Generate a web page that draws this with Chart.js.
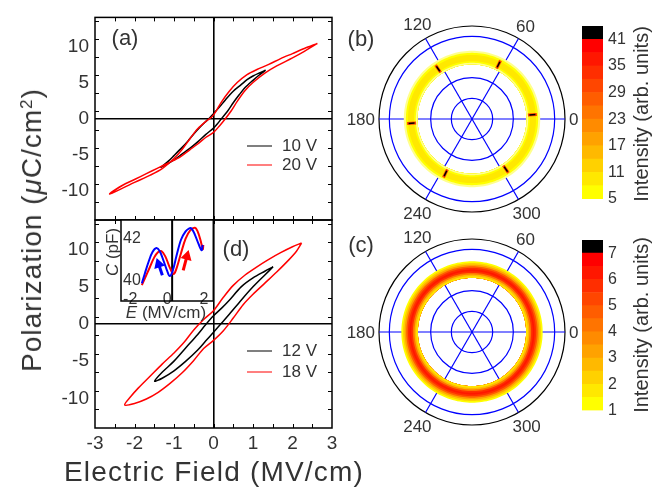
<!DOCTYPE html>
<html>
<head>
<meta charset="utf-8">
<title>P-E loops and polar intensity maps</title>
<script src="https://cdn.jsdelivr.net/npm/chart.js@4.4.1/dist/chart.umd.min.js"></script>
<style>
  body { margin: 0; background: #fff; }
  #fig { position: relative; width: 664px; height: 490px; overflow: hidden;
         font-family: "Liberation Sans", Arial, sans-serif; color: #333; }
  #fig canvas { position: absolute; left: 0; top: 0; }
  .lbl { position: absolute; white-space: nowrap; line-height: 1; transform: translate(-50%, -50%); }
  .rot { transform: translate(-50%, -50%) rotate(-90deg); }
  .leg { position: absolute; white-space: nowrap; line-height: 1; font-size: 17px; transform: translateY(-50%); }
  .leg span { display: inline-block; width: 25px; height: 0; border-top: 1.6px solid; vertical-align: middle; margin-right: 10px; }
  .sup { font-size: 0.6em; position: relative; top: -0.55em; }
</style>
</head>
<body>
<div id="fig">
  <canvas id="cA" width="664" height="490"></canvas>
  <canvas id="cD" width="664" height="490"></canvas>
  <canvas id="cIn" width="664" height="490"></canvas>
  <canvas id="cB" width="664" height="490"></canvas>
  <canvas id="cC" width="664" height="490"></canvas>
  <canvas id="cbB" width="664" height="490"></canvas>
  <canvas id="cbC" width="664" height="490"></canvas>

  <div class="lbl" style="left:125px;top:38px;font-size:22px">(a)</div>
  <div class="lbl" style="left:236px;top:249px;font-size:22px">(d)</div>
  <div class="lbl" style="left:361px;top:39px;font-size:22px">(b)</div>
  <div class="lbl" style="left:361px;top:245px;font-size:22px">(c)</div>

  <div class="leg" style="left:247px;top:145px"><span style="color:#000"></span>10 V</div>
  <div class="leg" style="left:247px;top:164px"><span style="color:#ff0000"></span>20 V</div>
  <div class="leg" style="left:247px;top:350px"><span style="color:#000"></span>12 V</div>
  <div class="leg" style="left:247px;top:371px"><span style="color:#ff0000"></span>18 V</div>

  <div class="lbl rot" style="left:32px;top:230px;font-size:28px;letter-spacing:1px">Polarization (<i>μ</i>C/cm<span class="sup">2</span>)</div>
  <div class="lbl" style="left:214px;top:472px;font-size:28px;letter-spacing:1.2px">Electric Field (MV/cm)</div>

  <div class="lbl rot" style="left:112px;top:252px;font-size:17px"><i>C</i> (pF)</div>
  <div class="lbl" style="left:166px;top:312px;font-size:17px"><i>E</i> (MV/cm)</div>

  <div class="lbl rot" style="left:641px;top:114px;font-size:20px">Intensity (arb. units)</div>
  <div class="lbl rot" style="left:641px;top:325px;font-size:20px">Intensity (arb. units)</div>
</div>

<script>
// ---------- data ----------
const eTicks = [-3, -2, -1, 0, 1, 2, 3];
const pTicks = [-10, -5, 0, 5, 10];

// (a) 10 V loop: from +tip along the upper branch, back along the lower branch
const loopA10E = [1.32, 1.15, 1.0, 0.85, 0.7, 0.5, 0.3, 0.15, 0.0, -0.1, -0.2, -0.35, -0.5, -0.65, -0.8, -1.0, -1.15, -1.33,
                  -1.15, -1.0, -0.8, -0.6, -0.4, -0.2, 0.0, 0.1, 0.2, 0.35, 0.5, 0.65, 0.8, 1.0, 1.15, 1.32];
const loopA10P = [6.7, 6.3, 5.9, 5.4, 4.7, 3.8, 2.6, 1.6, 0.7, 0.1, -0.4, -1.2, -2.1, -3.1, -4.0, -5.1, -5.9, -6.7,
                  -6.2, -5.7, -4.9, -4.1, -3.2, -2.2, -1.3, -0.7, 0.0, 1.0, 2.2, 3.3, 4.3, 5.3, 6.0, 6.7];
// (a) 20 V loop
const loopA20E = [2.63, 2.3, 2.0, 1.7, 1.4, 1.1, 0.85, 0.6, 0.4, 0.2, 0.05, -0.05, -0.2, -0.4, -0.6, -0.8, -1.0, -1.3, -1.6, -2.0, -2.3, -2.63,
                  -2.3, -2.0, -1.7, -1.4, -1.1, -0.85, -0.6, -0.4, -0.2, 0.0, 0.15, 0.3, 0.45, 0.6, 0.8, 1.0, 1.3, 1.6, 2.0, 2.3, 2.63];
const loopA20P = [10.4, 9.7, 9.0, 8.3, 7.5, 6.8, 6.1, 5.0, 3.8, 2.3, 0.9, 0.2, -0.4, -1.4, -2.8, -4.3, -5.5, -6.9, -7.8, -8.8, -9.6, -10.4,
                  -9.2, -8.4, -7.6, -6.8, -6.0, -5.3, -4.3, -3.5, -2.6, -1.9, -1.0, 0.0, 1.1, 2.4, 3.9, 5.0, 6.3, 7.3, 8.4, 9.3, 10.4];
// (d) 12 V loop
const loopD12E = [1.51, 1.3, 1.0, 0.7, 0.4, 0.2, 0.0, -0.2, -0.4, -0.7, -1.0, -1.3, -1.49,
                  -1.3, -1.0, -0.7, -0.4, -0.2, 0.0, 0.2, 0.4, 0.7, 1.0, 1.3, 1.51];
const loopD12P = [7.7, 7.1, 6.2, 5.0, 3.2, 2.1, 1.1, -0.1, -1.4, -3.2, -5.0, -6.5, -7.7,
                  -7.3, -6.3, -5.0, -3.5, -2.3, -1.1, 0.1, 1.3, 3.2, 5.0, 6.6, 7.7];
// (d) 18 V loop
const loopD18E = [2.23, 2.0, 1.7, 1.4, 1.1, 0.8, 0.5, 0.25, 0.0, -0.25, -0.5, -0.75, -1.0, -1.3, -1.6, -1.9, -2.1, -2.25,
                  -2.0, -1.7, -1.4, -1.1, -0.8, -0.5, -0.25, 0.0, 0.25, 0.5, 0.75, 1.0, 1.3, 1.6, 1.9, 2.1, 2.23];
const loopD18P = [10.9, 10.4, 9.6, 8.7, 7.7, 6.6, 5.2, 3.6, 1.8, 0.6, -0.8, -2.5, -3.9, -5.4, -7.0, -8.6, -9.8, -10.9,
                  -10.7, -10.1, -9.2, -8.0, -6.6, -4.9, -3.3, -2.2, -0.9, 0.8, 2.6, 4.0, 5.5, 7.0, 8.6, 9.8, 10.9];

// inset: C(E)
const insetETicks = [-2, 0, 2];
const insetCTicks = [40, 42];
const insetBlueE = [-1.37, -1.2, -1.0, -0.8, -0.58, -0.4, -0.2, 0.0, 0.14, 0.3, 0.5, 0.75, 1.0, 1.2, 1.33, 1.5, 1.7, 1.87, 1.92];
const insetBlueC = [39.85, 40.35, 40.9, 41.35, 41.55, 41.4, 40.95, 40.45, 40.2, 40.45, 41.15, 41.95, 42.35, 42.5, 42.48, 42.2, 41.75, 41.44, 41.7];
const insetRedE = [-1.37, -1.2, -0.95, -0.7, -0.5, -0.31, -0.1, 0.1, 0.25, 0.36, 0.5, 0.75, 1.0, 1.25, 1.51, 1.65, 1.8, 1.93, 1.96];
const insetRedC = [39.76, 40.1, 40.6, 41.1, 41.35, 41.4, 41.15, 40.7, 40.4, 40.3, 40.55, 41.3, 42.0, 42.4, 42.53, 42.35, 41.95, 41.5, 41.7];
const insetMarkE = 0.27;                 // vertical black marker line in the inset
const arrowBlueE = [-0.26, -0.46], arrowBlueC = [40.24, 40.77];
const arrowRedE = [0.87, 1.07], arrowRedC = [40.48, 41.15];

// polar maps (b) and (c)
const spokeAngles = [0, 60, 120, 180, 240, 300];
const polarGridR = [0, 1, 2, 3, 4, 4.5];
const ringBEdges = [2.64, 2.72, 2.80, 2.90, 3.00, 3.10, 3.20, 3.30];
const ringBVals = [4.5, 6.5, 8.5, 9.0, 8.5, 6.5, 4.5];
const spotBAngles = [4, 64, 124, 184, 244, 304];
const spotBR = 2.93;
const spotBPeak = 43, spotBHalo = 30;
const ringCEdges = [2.62, 2.70, 2.78, 2.86, 2.94, 3.02, 3.10, 3.18, 3.26, 3.34, 3.42];
const ringCVals = [1.5, 2.8, 4.2, 5.6, 6.3, 5.8, 4.6, 3.2, 2.0, 1.2];

// colour bars
const cbBLevels = [5, 8, 11, 14, 17, 20, 23, 26, 29, 32, 35, 38, 41, 44];
const cbBTicks = [5, 11, 17, 23, 29, 35, 41];
const cbCLevels = [1, 1.5, 2, 2.5, 3, 3.5, 4, 4.5, 5, 5.5, 6, 6.5, 7, 7.5];
const cbCTicks = [1, 2, 3, 4, 5, 6, 7];

// ---------- styling helpers ----------
const palette = ['#ffff00', '#ffe800', '#ffd100', '#ffb900', '#ffa200', '#ff8b00', '#ff7400',
                 '#ff5d00', '#ff4600', '#ff2e00', '#ff1700', '#ff0000', '#000000'];
const belowColor = '#ffff8c';

Chart.defaults.font.family = '"Liberation Sans", Arial, sans-serif';
Chart.defaults.color = '#333';
Chart.defaults.animation = false;
Chart.defaults.responsive = false;
Chart.defaults.plugins.legend.display = false;
Chart.defaults.plugins.tooltip.enabled = false;

const xy = (xs, ys) => xs.map((x, i) => ({ x, y: ys[i] }));
const fixTicks = vals => s => { s.ticks = vals.map(v => ({ value: v })); };
const zeroLine = c => (c.tick && c.tick.value === 0) ? '#000' : 'rgba(0,0,0,0)';

function levelColor(v, levels) {
  if (v < levels[0]) return belowColor;
  for (let i = 0; i < levels.length - 1; i++) {
    if (v < levels[i + 1]) return palette[i];
  }
  return palette[palette.length - 1];
}

// frame with inward ticks on all four sides
const framePlugin = {
  id: 'frame',
  afterDraw(chart, args, o) {
    const { ctx, chartArea: a, scales: { x, y } } = chart;
    ctx.save();
    ctx.strokeStyle = '#000';
    ctx.lineWidth = o.width || 1.5;
    ctx.strokeRect(a.left, a.top, a.right - a.left, a.bottom - a.top);
    if (o.len) {
      ctx.lineWidth = 1;
      ctx.beginPath();
      for (let v = x.min + o.xStep; v < x.max - 1e-6; v += o.xStep) {
        const px = Math.round(x.getPixelForValue(v)) + 0.5;
        ctx.moveTo(px, a.top); ctx.lineTo(px, a.top + o.len);
        ctx.moveTo(px, a.bottom); ctx.lineTo(px, a.bottom - o.len);
      }
      for (let v = y.min + o.yStep; v < y.max - 1e-6; v += o.yStep) {
        const py = Math.round(y.getPixelForValue(v)) + 0.5;
        ctx.moveTo(a.left, py); ctx.lineTo(a.left + o.len, py);
        ctx.moveTo(a.right, py); ctx.lineTo(a.right - o.len, py);
      }
      ctx.stroke();
    }
    ctx.restore();
  }
};

const whiteArea = {
  id: 'whiteArea',
  beforeDraw(chart) {
    const { ctx, chartArea: a } = chart;
    ctx.save();
    ctx.fillStyle = '#fff';
    ctx.fillRect(a.left, a.top, a.right - a.left, a.bottom - a.top);
    ctx.restore();
  }
};

// ---------- P-E loops ----------
function loopChart(id, padTop, padBottom, showX, loops) {
  return new Chart(document.getElementById(id), {
    type: 'scatter',
    data: {
      datasets: loops.map(l => ({
        label: l.label, data: xy(l.e, l.p), showLine: true,
        borderColor: l.color, borderWidth: 1.5, pointRadius: 0, tension: 0.3
      }))
    },
    options: {
      layout: { padding: { left: 0, right: 332, top: padTop, bottom: padBottom } },
      scales: {
        x: {
          type: 'linear', min: -3, max: 3,
          afterBuildTicks: fixTicks(eTicks),
          afterFit: s => { s.height = showX ? 62 : 0; },
          ticks: { display: showX, font: { size: 19 }, padding: 4 },
          grid: { drawTicks: false, color: zeroLine, lineWidth: 1.6 },
          border: { display: false }
        },
        y: {
          min: -14, max: 14,
          afterBuildTicks: fixTicks(pTicks),
          afterFit: s => { s.width = 95; },
          ticks: { font: { size: 19 }, padding: 6 },
          grid: { drawTicks: false, color: zeroLine, lineWidth: 1.6 },
          border: { display: false }
        }
      },
      plugins: { frame: { xStep: 0.5, yStep: 2.5, len: 4 } }
    },
    plugins: [framePlugin]
  });
}

loopChart('cA', 12, 270, false, [
  { label: '20 V', e: loopA20E, p: loopA20P, color: '#ff0000' },
  { label: '10 V', e: loopA10E, p: loopA10P, color: '#000000' }
]);
loopChart('cD', 220, 0, true, [
  { label: '18 V', e: loopD18E, p: loopD18P, color: '#ff0000' },
  { label: '12 V', e: loopD12E, p: loopD12P, color: '#000000' }
]);

// ---------- inset C-E ----------
new Chart(document.getElementById('cIn'), {
  type: 'scatter',
  data: {
    datasets: [
      { data: xy(insetBlueE, insetBlueC), showLine: true, borderColor: '#0000ff', borderWidth: 2, pointRadius: 0, tension: 0.35 },
      { data: xy(insetRedE, insetRedC), showLine: true, borderColor: '#ff0000', borderWidth: 2, pointRadius: 0, tension: 0.35 },
      { data: [{ x: insetMarkE, y: 39 }, { x: insetMarkE, y: 42.9 }], showLine: true, borderColor: '#000', borderWidth: 2, pointRadius: 0 },
      { data: xy(arrowBlueE, arrowBlueC), showLine: true, borderColor: '#0000ff', borderWidth: 3,
        pointRadius: [0, 3.5], pointStyle: 'triangle', pointRotation: -18, backgroundColor: '#0000ff', pointBorderColor: '#0000ff' },
      { data: xy(arrowRedE, arrowRedC), showLine: true, borderColor: '#ff0000', borderWidth: 3,
        pointRadius: [0, 3.5], pointStyle: 'triangle', pointRotation: 15, backgroundColor: '#ff0000', pointBorderColor: '#ff0000' }
    ]
  },
  options: {
    layout: { padding: { left: 121, right: 450.7, top: 220, bottom: 189 } },
    scales: {
      x: {
        type: 'linear', min: -2.5, max: 2.5,
        afterBuildTicks: fixTicks(insetETicks),
        afterFit: s => { s.height = 0; },
        ticks: { mirror: true, padding: -5, font: { size: 16, lineHeight: 0.75 } },
        grid: { display: false }, border: { display: false }
      },
      y: {
        min: 39, max: 42.9,
        afterBuildTicks: fixTicks(insetCTicks),
        afterFit: s => { s.width = 0; },
        ticks: { mirror: true, padding: 2, font: { size: 16 } },
        grid: { display: false }, border: { display: false }
      }
    },
    plugins: { frame: { width: 1.5 } }
  },
  plugins: [whiteArea, framePlugin]
});

// ---------- polar maps ----------
const angleStep = 2;
const polarLabels = Array.from({ length: 360 / angleStep }, (_, i) => (360 - i * angleStep) % 360);
const idxOfAngle = a => polarLabels.indexOf(((a % 360) + 360) % 360);
const spokeIdx = spokeAngles.map(idxOfAngle);

const angleLabelPlugin = {
  id: 'angleLabels',
  afterDraw(chart) {
    const r = chart.scales.r, ctx = chart.ctx;
    ctx.save();
    ctx.font = '17px "Liberation Sans", Arial, sans-serif';
    ctx.fillStyle = '#333';
    ctx.textAlign = 'center';
    ctx.textBaseline = 'middle';
    spokeAngles.forEach(a => {
      const t = String(a), w = ctx.measureText(t).width, h = 12;
      const rad = a * Math.PI / 180;
      const d = r.drawingArea + 4 + Math.abs(Math.cos(rad)) * w / 2 + Math.abs(Math.sin(rad)) * h / 2;
      const p = r.getPointPosition(idxOfAngle(a), d);
      ctx.fillText(t, p.x, p.y + 1);
    });
    ctx.restore();
  }
};

function ringChart(id, padTop, padBottom, edges, vals, levels, extra) {
  const n = edges.length - 1;
  const sets = edges.slice(1).map((r, k) => ({
    data: polarLabels.map(() => r), fill: n, order: k + 1,
    backgroundColor: levelColor(vals[k], levels), borderWidth: 0, pointRadius: 0
  }));
  sets.push({ data: polarLabels.map(() => edges[0]), fill: false, order: 0, borderWidth: 0, pointRadius: 0 });
  return new Chart(document.getElementById(id), {
    type: 'radar',
    data: { labels: polarLabels, datasets: sets.concat(extra || []) },
    options: {
      layout: { padding: { left: 379, right: 99, top: padTop, bottom: padBottom } },
      scales: {
        r: {
          min: 0, max: 4.5, startAngle: 90,
          afterBuildTicks: fixTicks(polarGridR),
          ticks: { display: false },
          pointLabels: { display: false },
          grid: { circular: true, color: c => c.tick && c.tick.value === 4.5 ? '#000' : '#0000ff', lineWidth: 1.2 },
          angleLines: { color: '#0000ff', lineWidth: c => spokeIdx.includes(c.index) ? 1.2 : 0 }
        }
      }
    },
    plugins: [angleLabelPlugin]
  });
}

const spotIdx = spotBAngles.map(idxOfAngle);
const spotData = polarLabels.map((_, i) => spotIdx.includes(i) ? spotBR : null);
const spotRot = c => -polarLabels[c.dataIndex];
ringChart('cB', 26, 278, ringBEdges, ringBVals, cbBLevels, [
  { data: spotData, showLine: false, fill: false, order: -1, pointStyle: 'line', pointRadius: 4.5,
    pointBorderWidth: 3, pointBorderColor: levelColor(spotBHalo, cbBLevels), pointRotation: spotRot },
  { data: spotData, showLine: false, fill: false, order: -2, pointStyle: 'line', pointRadius: 3,
    pointBorderWidth: 1.5, pointBorderColor: levelColor(spotBPeak, cbBLevels), pointRotation: spotRot }
]);
ringChart('cC', 239, 65, ringCEdges, ringCVals, cbCLevels);

// ---------- colour bars ----------
function colorBar(id, padTop, padBottom, levels, tickVals) {
  return new Chart(document.getElementById(id), {
    type: 'bar',
    data: {
      labels: [''],
      datasets: levels.slice(0, -1).map((lo, i) => ({
        data: [[lo, levels[i + 1]]], backgroundColor: palette[i], borderWidth: 0,
        barPercentage: 1, categoryPercentage: 1, grouped: false
      }))
    },
    options: {
      layout: { padding: { left: 582, right: 21, top: padTop, bottom: padBottom } },
      scales: {
        x: { display: false },
        y: {
          position: 'right', min: levels[0], max: levels[levels.length - 1],
          afterBuildTicks: fixTicks(tickVals),
          afterFit: s => { s.width = 40; },
          ticks: { font: { size: 16 }, padding: 5 },
          grid: { display: false, drawTicks: false }, border: { display: false }
        }
      }
    }
  });
}
colorBar('cbB', 26, 291, cbBLevels, cbBTicks);
colorBar('cbC', 240, 79.5, cbCLevels, cbCTicks);
</script>
</body>
</html>
